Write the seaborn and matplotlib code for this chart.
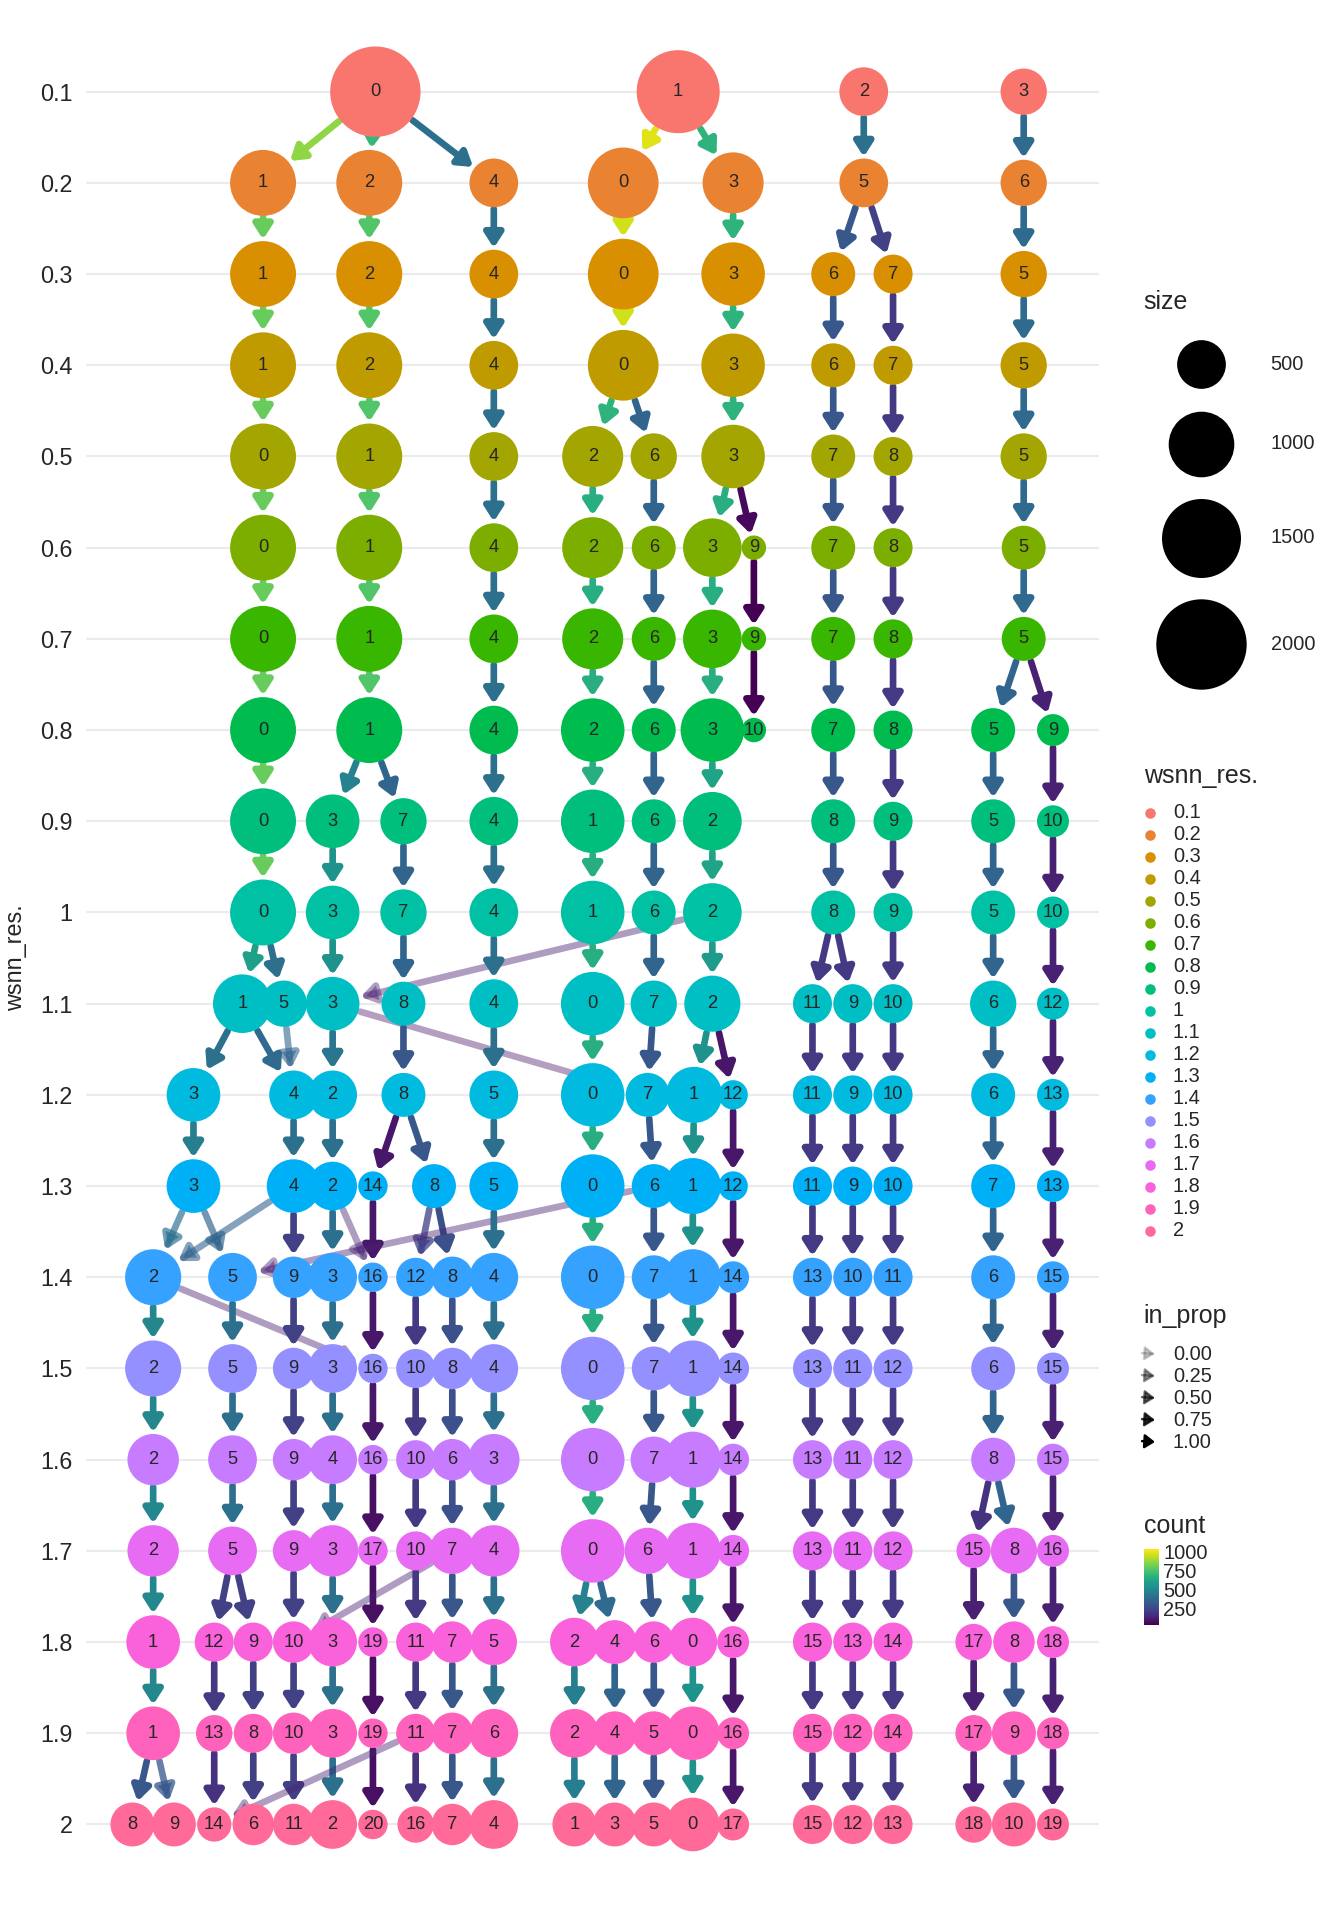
import numpy as np
import pandas as pd
import matplotlib
matplotlib.use("Agg")
import matplotlib.pyplot as plt
import seaborn as sns

# -----------------------------
# DATA
# -----------------------------
resolutions = ["0.1", "0.2", "0.3", "0.4", "0.5", "0.6", "0.7", "0.8", "0.9", "1",
               "1.1", "1.2", "1.3", "1.4", "1.5", "1.6", "1.7", "1.8", "1.9", "2"]

# cluster@layout_x:size  (layout x from the tree layout)
nodes_txt = {
    "0.1": "0@307:2000 1@555:1670 2@707:500 3@838:440",
    "0.2": "1@215:1010 2@302:1010 4@404:500 0@510:1180 3@600:850 5@707:500 6@838:440",
    "0.3": "1@215:1010 2@302:1010 4@404:500 0@510:1180 3@600:930 6@682:385 7@731:280 5@838:440",
    "0.4": "1@215:1010 2@302:1010 4@404:500 0@510:1180 3@600:930 6@682:385 7@731:280 5@838:440",
    "0.5": "0@215:1010 1@302:1010 4@404:500 2@485:850 6@535:440 3@600:930 7@682:385 8@731:280 5@838:440",
    "0.6": "0@215:1010 1@302:1010 4@404:500 2@485:850 6@535:385 3@583:775 9@617:40 7@682:385 8@731:280 5@838:385",
    "0.7": "0@215:1010 1@302:1010 4@404:500 2@485:850 6@535:385 3@583:775 9@617:40 7@682:385 8@731:280 5@838:385",
    "0.8": "0@215:1010 1@302:1010 4@404:500 2@485:930 6@535:385 3@583:930 10@617:40 7@682:385 8@731:280 5@813:385 9@862:150",
    "0.9": "0@215:1010 3@272:630 7@330:440 4@404:500 1@485:930 6@535:385 2@583:775 8@682:385 9@731:280 5@813:385 10@862:150",
    "1": "0@215:1010 3@272:630 7@330:440 4@404:500 1@485:930 6@535:385 2@583:775 8@682:385 9@731:280 5@813:385 10@862:150",
    "1.1": "1@198:775 5@232:440 3@272:630 8@330:385 4@404:500 0@485:930 7@535:440 2@583:700 11@665:280 9@698:280 10@731:280 6@813:440 12@862:150",
    "1.2": "3@158:630 4@240:500 2@272:500 8@330:385 5@404:500 0@485:930 7@530:385 1@568:700 12@600:110 11@665:280 9@698:280 10@731:280 6@813:385 13@862:150",
    "1.3": "3@158:630 4@240:630 2@272:500 14@305:110 8@355:385 5@404:500 0@485:930 6@535:385 1@567:700 12@600:110 11@665:280 9@698:280 10@731:280 7@813:385 13@862:150",
    "1.4": "2@125:700 5@190:500 9@240:330 3@272:500 16@305:110 12@340:280 8@370:330 4@404:500 0@485:930 7@535:385 1@567:700 14@600:150 13@665:280 10@698:280 11@731:280 6@813:385 15@862:150",
    "1.5": "2@125:700 5@190:500 9@240:330 3@272:500 16@305:110 10@340:280 8@370:330 4@404:500 0@485:930 7@535:385 1@567:700 14@600:150 13@665:280 11@698:280 12@731:280 6@813:385 15@862:150",
    "1.6": "2@125:570 5@190:500 9@240:330 4@272:500 16@305:110 10@340:280 6@370:330 3@404:570 0@485:930 7@535:440 1@567:700 14@600:150 13@665:280 11@698:280 12@731:280 8@813:385 15@862:150",
    "1.7": "2@125:570 5@190:500 9@240:330 3@272:570 17@305:110 10@340:280 7@370:440 4@404:570 0@485:930 6@530:440 1@567:700 14@600:150 13@665:280 11@698:280 12@731:280 15@797:190 8@830:440 16@862:150",
    "1.8": "1@125:630 12@175:280 9@207:280 10@240:330 3@272:500 19@305:110 11@340:280 7@370:330 5@404:440 2@470:500 4@503:385 6@535:330 0@567:500 16@600:150 15@665:280 13@698:280 14@731:280 17@797:230 8@830:330 18@862:150",
    "1.9": "1@125:630 13@175:230 8@207:280 10@240:330 3@272:500 19@305:110 11@340:280 7@370:330 6@404:500 2@470:500 4@503:385 5@535:385 0@567:630 16@600:150 15@665:280 12@698:280 14@731:280 17@797:230 9@830:385 18@862:150",
    "2": "8@108:385 9@142:385 14@175:190 6@207:330 11@240:330 2@272:500 20@305:110 16@340:230 7@370:330 4@404:500 1@470:385 3@503:385 5@535:385 0@567:630 17@600:150 15@665:280 12@698:280 13@731:280 18@797:230 10@830:385 19@862:150",
}

# parent>child:count[:in_prop], keyed by child resolution
edges_txt = {
    "0.2": "0>1:880 0>2:720 0>4:420 1>0:1000 1>3:700 2>5:420 3>6:400",
    "0.3": "1>1:820 2>2:780 4>4:420 0>0:980 3>3:700 5>6:330 5>7:250 6>5:400",
    "0.4": "1>1:820 2>2:780 4>4:420 0>0:980 3>3:700 6>6:330 7>7:230 5>5:400",
    "0.5": "1>0:820 2>1:780 4>4:420 0>2:700 0>6:380 3>3:700 6>7:330 7>8:230 5>5:400",
    "0.6": "0>0:820 1>1:780 4>4:420 2>2:680 6>6:380 3>3:680 3>9:80 7>7:330 8>8:230 5>5:400",
    "0.7": "0>0:820 1>1:780 4>4:420 2>2:680 6>6:380 3>3:680 9>9:60 7>7:330 8>8:230 5>5:400",
    "0.8": "0>0:820 1>1:780 4>4:420 2>2:680 6>6:380 3>3:680 9>10:60 7>7:330 8>8:230 5>5:380 5>9:150",
    "0.9": "0>0:820 1>3:500 1>7:380 4>4:420 2>1:680 6>6:380 3>2:640 7>8:330 8>9:230 5>5:380 9>10:150",
    "1": "0>0:820 3>3:560 7>7:380 4>4:420 1>1:680 6>6:380 2>2:640 8>8:330 9>9:230 5>5:380 10>10:150",
    "1.1": "0>1:620 0>5:420 2>3:150:0.3 3>3:560 7>8:380 4>4:420 1>0:680 6>7:380 2>2:600 8>11:230 8>9:230 9>10:230 5>6:380 10>12:150",
    "1.2": "1>3:420 1>4:400 5>4:380:0.5 3>2:450 3>7:100:0.25 8>8:330 4>5:420 0>0:680 7>7:330 2>1:560 2>12:120 11>11:230 9>9:230 10>10:230 6>6:380 12>13:150",
    "1.3": "3>3:480 4>4:420 2>2:420 8>14:120 8>8:330 5>5:420 0>0:680 7>6:330 1>1:560 12>12:120 11>11:230 9>9:230 10>10:230 6>7:380 13>13:150",
    "1.4": "3>2:420:0.6 3>5:380:0.6 4>2:380:0.5 4>9:250 2>3:420 2>16:150:0.3 14>16:120 8>12:250:0.7 8>8:300 6>5:150:0.3 5>4:420 0>0:680 6>7:330 1>1:560 12>14:120 11>13:230 9>10:230 10>11:230 7>6:380 13>15:150",
    "1.5": "2>2:520 2>16:150:0.3 5>5:420 9>9:250 3>3:420 16>16:120 12>10:230 8>8:300 4>4:420 0>0:680 7>7:330 1>1:560 14>14:120 13>13:230 10>11:230 11>12:230 6>6:380 15>15:150",
    "1.6": "2>2:520 5>5:420 9>9:250 3>4:420 16>16:120 10>10:230 8>6:300 4>3:420 0>0:680 7>7:330 1>1:560 14>14:120 13>13:230 11>11:230 12>12:230 6>8:380 15>15:150",
    "1.7": "2>2:520 5>5:420 9>9:250 4>3:420 16>17:100 10>10:230 6>7:300 3>4:420 0>0:680 7>6:330 1>1:560 14>14:120 13>13:230 11>11:230 12>12:230 8>15:200 8>8:380 15>16:150",
    "1.8": "2>1:520 5>12:250 5>9:250 9>10:250 3>3:420 17>19:100 7>10:150:0.3 10>11:230 7>7:330 4>5:420 0>2:500 0>4:400 6>6:330 1>0:560 14>16:120 13>15:230 11>13:230 12>14:230 15>17:150 8>8:330 16>18:150",
    "1.9": "1>1:520 12>13:230 9>8:250 10>10:250 3>3:420 19>19:100 11>11:230 7>7:330 5>6:420 2>2:480 4>4:380 6>5:330 0>0:560 16>16:120 15>15:230 13>12:230 14>14:230 17>17:150 8>9:330 18>18:150",
    "2": "1>8:330 1>9:330:0.7 13>14:200 8>6:250 10>11:250 3>2:420 19>20:100 11>16:200 11>14:150:0.3 7>7:330 6>4:420 2>1:480 4>3:380 5>5:330 0>0:560 16>17:120 15>15:230 12>12:230 14>13:230 17>18:150 9>10:330 18>19:150",
}

# -----------------------------
# BUILD TABLES
# -----------------------------
node_rows = []
for ri, res in enumerate(resolutions):
    for tok in nodes_txt[res].split():
        lab, rest = tok.split("@")
        x, size = rest.split(":")
        node_rows.append(dict(res=res, y=ri, cluster=lab, x=float(x), size=float(size)))
nodes = pd.DataFrame(node_rows)

edge_rows = []
for ri, res in enumerate(resolutions[1:], start=1):
    for tok in edges_txt[res].split():
        parts = tok.split(":")
        a, b = parts[0].split(">")
        edge_rows.append(dict(from_res=resolutions[ri - 1], to_res=res, a=a, b=b,
                              count=float(parts[1]),
                              in_prop=float(parts[2]) if len(parts) > 2 else 1.0))
edges = pd.DataFrame(edge_rows)


def hcl_color(h, c, l):
    h = np.deg2rad(h)
    u, v = c * np.cos(h), c * np.sin(h)
    Y = ((l + 16) / 116) ** 3
    up = u / (13 * l) + 0.19784
    vp = v / (13 * l) + 0.46834
    X = Y * 9 * up / (4 * vp)
    Z = Y * (12 - 3 * up - 20 * vp) / (4 * vp)
    M = np.array([[3.2404542, -1.5371385, -0.4985314],
                  [-0.9692660, 1.8760108, 0.0415560],
                  [0.0556434, -0.2040259, 1.0572252]])
    rgb = np.clip(M @ np.array([X, Y, Z]), 0, 1)
    rgb = np.where(rgb <= 0.0031308, 12.92 * rgb, 1.055 * rgb ** (1 / 2.4) - 0.055)
    return tuple(np.clip(rgb, 0, 1))


hues = np.linspace(15, 375, len(resolutions) + 1)[:-1]
res_pal = {r: hcl_color(h, 100, 65) for r, h in zip(resolutions, hues)}

count_norm = matplotlib.colors.Normalize(vmin=60, vmax=1050)
cmap = plt.get_cmap("viridis")

# -----------------------------
# PLOT
# -----------------------------
W, H = 1100, 1571          # reference layout px
SCALE = 1344 / W * 72 / 120  # layout px -> points


def radius(size):
    return np.sqrt(74 + 0.647 * size)


sns.set_style("white")
plt.rcParams["font.family"] = ["Liberation Sans", "DejaVu Sans"]
fig = plt.figure(figsize=(11.2, 16), dpi=120)
ax = fig.add_axes([0.064, 0.026, 0.754, 0.950])
ax.set_xlim(70, 900)
ax.set_ylim(len(resolutions) - 0.5, -0.5)

for y in range(len(resolutions)):
    ax.axhline(y, color="#ebebeb", lw=1.3, zorder=0)

lookup = {(r.res, r.cluster): r for r in nodes.itertuples()}
for e in edges.itertuples():
    p = lookup[(e.from_res, e.a)]
    c = lookup[(e.to_res, e.b)]
    ax.annotate("", xy=(c.x, c.y), xytext=(p.x, p.y),
                arrowprops=dict(arrowstyle="-|>,head_length=0.7,head_width=0.45",
                                color=cmap(count_norm(e.count)), lw=4,
                                alpha=0.2 + 0.8 * e.in_prop,
                                shrinkA=radius(p.size) * SCALE + 1,
                                shrinkB=radius(c.size) * SCALE + 1),
                zorder=1)

nodes["s"] = (2 * radius(nodes["size"]) * SCALE) ** 2
sns.scatterplot(data=nodes, x="x", y="y", hue="res", palette=res_pal, size="s",
                sizes=(nodes["s"].min(), nodes["s"].max()), linewidth=0,
                legend=False, ax=ax, zorder=3)
for r in nodes.itertuples():
    ax.text(r.x, r.y, r.cluster, ha="center", va="center", fontsize=11, zorder=4)

ax.set_yticks(range(len(resolutions)))
ax.set_yticklabels(resolutions, fontsize=14)
ax.set_xticks([])
ax.set_xlabel("")
ax.set_ylabel("wsnn_res.", fontsize=14, labelpad=8)
ax.tick_params(axis="y", length=0, pad=8)
sns.despine(ax=ax, left=True, bottom=True)

# -----------------------------
# LEGENDS
# -----------------------------
lg = fig.add_axes([0, 0, 1, 1], zorder=-1)
lg.axis("off")

lg.text(936, 247, "size", fontsize=15, va="center")
for s, yy in zip([500, 1000, 1500, 2000], [298, 363, 440, 527]):
    lg.scatter(983, yy, s=(2 * radius(s) * SCALE) ** 2, color="black", linewidth=0)
    lg.text(1040, yy, str(s), fontsize=12, va="center")

lg.text(936, 635, "wsnn_res.", fontsize=15, va="center")
for i, r in enumerate(resolutions):
    yy = 665 + i * 18
    lg.scatter(941, yy, s=40, color=res_pal[r], linewidth=0)
    lg.text(960, yy, r, fontsize=12, va="center")

lg.text(936, 1077, "in_prop", fontsize=15, va="center")
for i, p in enumerate([0.0, 0.25, 0.5, 0.75, 1.0]):
    yy = 1108 + i * 18
    lg.annotate("", xy=(948, yy), xytext=(932, yy - 1),
                arrowprops=dict(arrowstyle="-|>,head_length=0.5,head_width=0.35",
                                color="black", lw=1.5, alpha=0.2 + 0.8 * p))
    lg.text(960, yy, f"{p:.2f}", fontsize=12, va="center")

lg.text(936, 1249, "count", fontsize=15, va="center")
grad = np.linspace(1, 0, 100).reshape(-1, 1)
lg.imshow(grad, cmap="viridis", extent=(936, 948, 1330, 1268), aspect="auto")
for v in [1000, 750, 500, 250]:
    yy = 1330 - (v - 60) / (1050 - 60) * 62
    lg.text(952, yy, str(v), fontsize=12, va="center")
lg.set_xlim(0, W)
lg.set_ylim(H, 0)

plt.savefig("out.png", dpi=120)
